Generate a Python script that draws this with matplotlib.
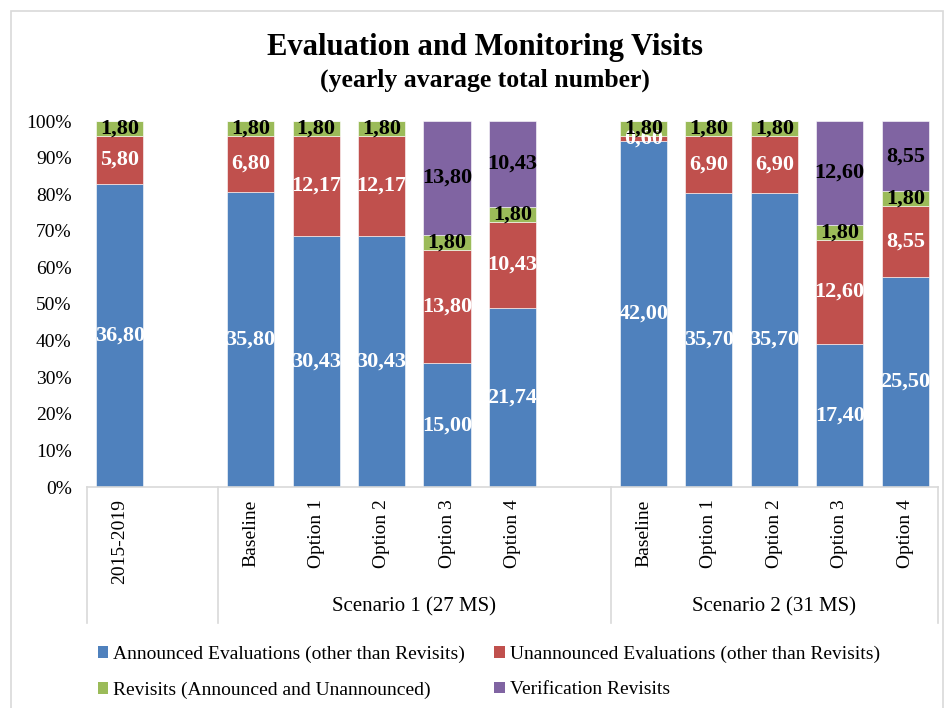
import matplotlib
matplotlib.use("Agg")
import matplotlib.pyplot as plt
import matplotlib.transforms as mtransforms
from matplotlib.patches import Rectangle, Patch
import numpy as np

plt.rcParams['font.family'] = ['Liberation Serif', 'DejaVu Serif']

# ---- data ----
categories = ["2015-2019", "Baseline", "Option 1", "Option 2", "Option 3", "Option 4",
              "Baseline", "Option 1", "Option 2", "Option 3", "Option 4"]
groups = ["Scenario 1 (27 MS)", "Scenario 2 (31 MS)"]
announced = [36.80, 35.80, 30.43, 30.43, 15.00, 21.74, 42.00, 35.70, 35.70, 17.40, 25.50]
unannounced = [5.80, 6.80, 12.17, 12.17, 13.80, 10.43, 0.60, 6.90, 6.90, 12.60, 8.55]
revisits = [1.80, 1.80, 1.80, 1.80, 1.80, 1.80, 1.80, 1.80, 1.80, 1.80, 1.80]
verification = [0, 0, 0, 0, 13.80, 10.43, 0, 0, 0, 12.60, 8.55]
series_names = ["Announced Evaluations (other than Revisits)",
                "Unannounced Evaluations (other than Revisits)",
                "Revisits (Announced and Unannounced)",
                "Verification Revisits"]
yticks = [0, 10, 20, 30, 40, 50, 60, 70, 80, 90, 100]

colors = ["#4F81BD", "#C0504D", "#9BBB59", "#8064A2"]
label_colors = ["white", "white", "black", "black"]

positions = [0, 2, 3, 4, 5, 6, 8, 9, 10, 11, 12]

W, H = 947, 708
fig = plt.figure(figsize=(W / 100, H / 100), dpi=100)
ax = fig.add_axes([87 / W, 1 - 487 / H, (938 - 87) / W, (487 - 121) / H])

data = np.array([announced, unannounced, revisits, verification])
totals = data.sum(axis=0)
pct = data / totals * 100

bottom = np.zeros(len(categories))
for i in range(4):
    ax.bar(positions, pct[i], bottom=bottom, width=0.72, color=colors[i],
           edgecolor="white", linewidth=0.4, label=series_names[i])
    for j, (p, v, raw) in enumerate(zip(positions, pct[i], data[i])):
        if raw > 0:
            ax.text(p, bottom[j] + v / 2, f"{raw:.2f}".replace(".", ","),
                    ha="center", va="center", fontsize=16, fontweight="bold",
                    color=label_colors[i])
    bottom += pct[i]

ax.set_xlim(-0.5, 12.5)
ax.set_ylim(0, 100)
ax.set_yticks(yticks)
ax.set_yticklabels([f"{t}%" for t in yticks], fontsize=14)
ax.tick_params(axis="y", length=0, pad=11)
ax.set_xticks(positions)
ax.set_xticklabels(categories, rotation=90, fontsize=14, va="top")
ax.tick_params(axis="x", length=0, pad=9)

for s in ["top", "right", "left"]:
    ax.spines[s].set_visible(False)
ax.spines["bottom"].set_color("#D9D9D9")
ax.spines["bottom"].set_linewidth(1.2)

# group separators and labels
trans = mtransforms.blended_transform_factory(ax.transData, ax.transAxes)
sep_bottom = -(623 - 487) / (487 - 121)
for xs in [-0.5, 1.5, 7.5, 12.5]:
    ax.plot([xs, xs], [0, sep_bottom], transform=trans, color="#D9D9D9",
            linewidth=1.2, clip_on=False)
grp_y = -(607 - 487) / (487 - 121)
ax.text(4.5, grp_y, groups[0], transform=trans, ha="center", va="center", fontsize=15)
ax.text(10, grp_y, groups[1], transform=trans, ha="center", va="center", fontsize=15)

# title
fig.text(0.512, 1 - 47 / H, "Evaluation and Monitoring Visits", ha="center", va="center",
         fontsize=22, fontweight="bold")
fig.text(0.512, 1 - 80 / H, "(yearly avarage total number)", ha="center", va="center",
         fontsize=18.5, fontweight="bold")

# legend (row-wise order like the reference)
order = [0, 2, 1, 3]
handles = [Patch(facecolor=colors[k], edgecolor="none") for k in order]
labels = [series_names[k] for k in order]
fig.legend(handles, labels, loc="upper left", ncol=2,
           bbox_to_anchor=(80 / W, 1 - 628 / H), frameon=False, fontsize=14,
           handlelength=0.55, handleheight=0.55, handletextpad=0.25,
           columnspacing=1.5, labelspacing=0.95)

# outer border
fig.patches.append(Rectangle((11 / W, -0.05), (943 - 11) / W, 1.05 - 11 / H,
                             transform=fig.transFigure, fill=False,
                             edgecolor="#D9D9D9", linewidth=1.2))

fig.savefig("out.png", dpi=100)
